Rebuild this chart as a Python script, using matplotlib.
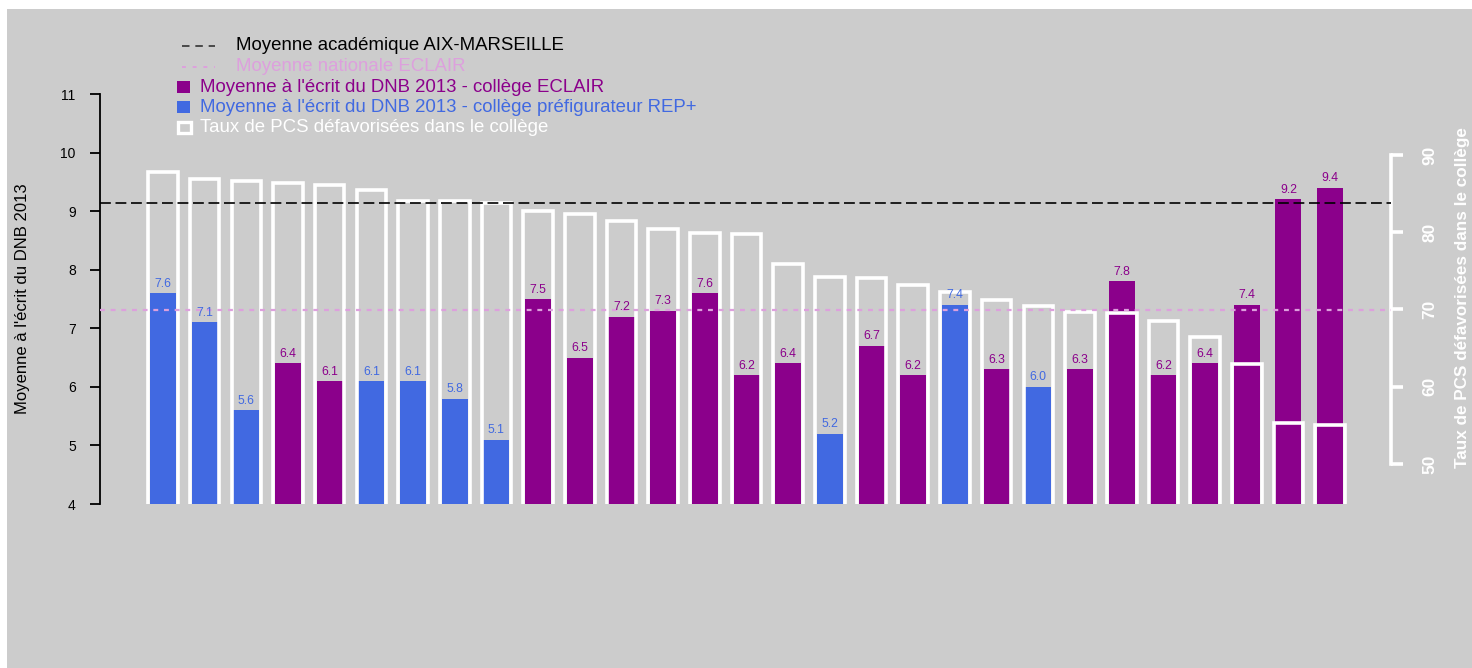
import numpy as np
import matplotlib
matplotlib.use("Agg")
import matplotlib.pyplot as plt
from matplotlib.patches import Rectangle
from matplotlib.lines import Line2D

plt.rcParams['font.family'] = ['Liberation Sans', 'DejaVu Sans']

# ---------------- data ----------------
dnb = [7.6, 7.1, 5.6, 6.4, 6.1, 6.1, 6.1, 5.8, 5.1, 7.5, 6.5, 7.2, 7.3, 7.6, 6.2,
       6.4, 5.2, 6.7, 6.2, 7.4, 6.3, 6.0, 6.3, 7.8, 6.2, 6.4, 7.4, 9.2, 9.4]
groupe = ['R', 'R', 'R', 'E', 'E', 'R', 'R', 'R', 'R', 'E', 'E', 'E', 'E', 'E', 'E',
          'E', 'R', 'E', 'E', 'R', 'E', 'R', 'E', 'E', 'E', 'E', 'E', 'E', 'E']
pcs = [87.8, 86.9, 86.6, 86.4, 86.1, 85.5, 84.0, 84.0, 83.8, 82.7, 82.4, 81.5, 80.4,
       79.9, 79.8, 75.9, 74.2, 74.1, 73.2, 72.3, 71.2, 70.4, 69.7, 69.5, 68.5, 66.4,
       62.9, 55.3, 55.0]
moy_academique = 9.14
moy_nationale_eclair = 7.32
left_ticks = [4, 5, 6, 7, 8, 9, 10, 11]
right_ticks = [50, 60, 70, 80, 90]
legend_labels = ["Moyenne académique AIX-MARSEILLE",
                 "Moyenne nationale ECLAIR",
                 "Moyenne à l'écrit du DNB 2013 - collège ECLAIR",
                 "Moyenne à l'écrit du DNB 2013 - collège préfigurateur REP+",
                 "Taux de PCS défavorisées dans le collège"]

# ---------------- style ----------------
BG = '#CCCCCC'
PURPLE = '#8B008B'
BLUE = '#4169E1'
PLUM = '#DDA0DD'
col_map = {'E': PURPLE, 'R': BLUE}

W, H = 1472, 668
fig = plt.figure(figsize=(W / 100, H / 100), dpi=100, facecolor='white')
fig.patches.append(Rectangle((7 / W, 0), 1 - 7 / W, (H - 9) / H,
                             transform=fig.transFigure, facecolor=BG,
                             edgecolor='none', zorder=-10))


def fx(px):
    return px / W


def fy(py):
    return 1 - py / H


ax = fig.add_axes([fx(100), fy(504), fx(1391) - fx(100), fy(94) - fy(504)])
ax.set_facecolor('none')
ax.set_ylim(4, 11)
ax.set_xlim(-1.51, 29.46)

x = np.arange(len(dnb))
colors = [col_map[g] for g in groupe]
ax.bar(x, np.array(dnb) - 4, bottom=4, width=0.625, color=colors, zorder=2)

# left axis
for s in ['top', 'right', 'bottom']:
    ax.spines[s].set_visible(False)
ax.spines['left'].set_bounds(4, 11)
ax.spines['left'].set_linewidth(1.3)
ax.set_yticks(left_ticks)
ax.set_yticklabels([str(t) for t in left_ticks], fontsize=10)
ax.tick_params(axis='y', direction='out', length=7.5, width=1.3, pad=10)
ax.set_xticks([])
fig.text(fx(23), fy(299), "Moyenne à l'écrit du DNB 2013", fontsize=12,
         rotation=90, ha='center', va='center', color='black')

# right axis (PCS)
ax2 = ax.twinx()
ax2.set_ylim(44.8, 97.9)
ax2.set_xlim(ax.get_xlim())
ax2.bar(x, np.array(pcs) - 40, bottom=40, width=0.71, fill=False,
        edgecolor='white', linewidth=2.6, zorder=3)
for s in ['top', 'left', 'bottom']:
    ax2.spines[s].set_visible(False)
ax2.spines['right'].set_bounds(50, 90)
ax2.spines['right'].set_color('white')
ax2.spines['right'].set_linewidth(2.6)
ax2.set_yticks(right_ticks)
ax2.set_yticklabels([str(t) for t in right_ticks], fontsize=12.5,
                    fontweight='bold', color='white', rotation=90, va='center')
ax2.tick_params(axis='y', direction='out', length=8.5, width=2.6,
                color='white', pad=14)
fig.text(fx(1463), fy(298), "Taux de PCS défavorisées dans le collège",
         fontsize=12.3, fontweight='bold', color='white', rotation=90,
         ha='center', va='center')

# reference lines (drawn above bars, in left-axis units)
ax2.plot([0, 1], [moy_academique] * 2, transform=ax.get_yaxis_transform(),
         color='black', lw=1.2, ls=(0, (6.5, 2.8)), zorder=5)
ax2.plot([0, 1], [moy_nationale_eclair] * 2, transform=ax.get_yaxis_transform(),
         color=PLUM, lw=1.6, ls=(0, (2.2, 2.6)), zorder=5)

# value labels
for xi, v, c in zip(x, dnb, colors):
    ax2.text(xi, v + 0.11, f"{v:.1f}", transform=ax.transData, ha='center',
             va='baseline', fontsize=8.8, color=c, zorder=6)

# ---------------- legend ----------------
fs_leg = 13.4
rows = [46, 66.5, 87, 107, 127]
fig.add_artist(Line2D([fx(182), fx(215)], [fy(rows[0])] * 2, color='#333333',
                      lw=1.2, ls=(0, (4.5, 3.5)), transform=fig.transFigure))
fig.add_artist(Line2D([fx(182), fx(215)], [fy(rows[1])] * 2, color=PLUM,
                      lw=1.4, ls=(0, (2, 3.5)), transform=fig.transFigure))
fig.text(fx(236), fy(rows[0]), legend_labels[0], color='black', fontsize=fs_leg, va='center')
fig.text(fx(236), fy(rows[1]), legend_labels[1], color=PLUM, fontsize=fs_leg, va='center')
for r, c in [(rows[2], PURPLE), (rows[3], BLUE)]:
    fig.patches.append(Rectangle((fx(177), fy(r + 6)), fx(13), 12 / H,
                                 transform=fig.transFigure, facecolor=c,
                                 edgecolor='none'))
fig.patches.append(Rectangle((fx(177.5), fy(r + 26)), fx(13), 11 / H,
                             transform=fig.transFigure, facecolor='none',
                             edgecolor='white', lw=2.4))
fig.text(fx(200), fy(rows[2]), legend_labels[2], color=PURPLE, fontsize=fs_leg, va='center')
fig.text(fx(200), fy(rows[3]), legend_labels[3], color=BLUE, fontsize=fs_leg, va='center')
fig.text(fx(200), fy(rows[4]), legend_labels[4], color='white', fontsize=fs_leg, va='center')

fig.savefig('out.png', dpi=100, facecolor='white')
